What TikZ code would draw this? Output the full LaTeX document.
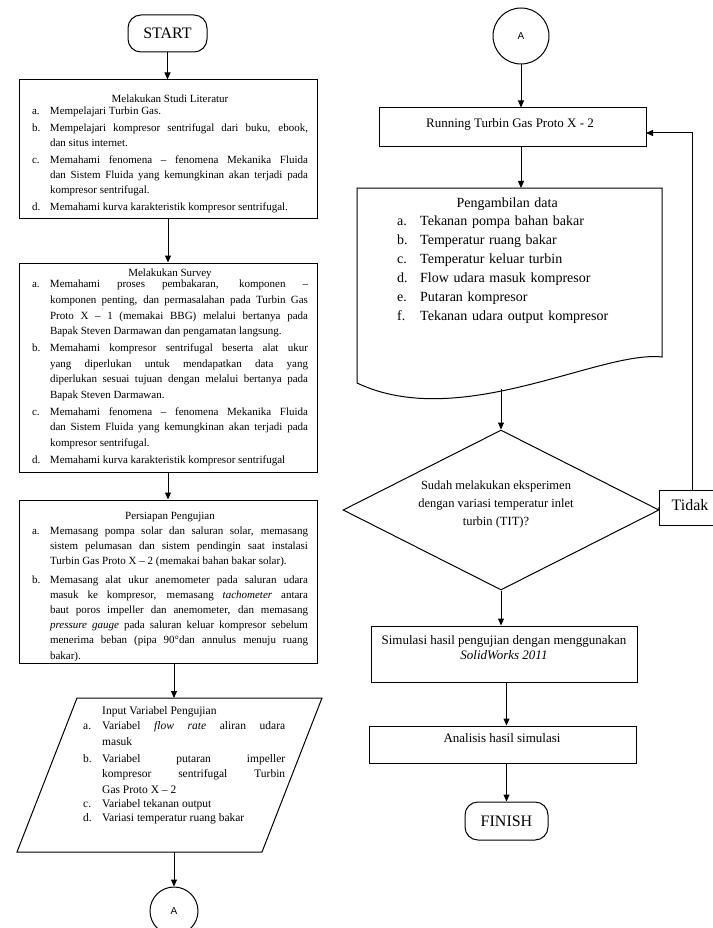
\documentclass[tikz,border=0pt]{standalone}
\usepackage{fontspec}
\setmainfont{Liberation Serif}
\newfontfamily\sansA{Liberation Sans}
\usetikzlibrary{arrows.meta,shapes.geometric}
\tolerance=10000
\hbadness=10000
\newcommand{\itm}[3]{\par\hangindent=#1\hangafter=1\noindent\makebox[#1][l]{#2}#3\par}
\begin{document}
\begin{tikzpicture}[x=1pt,y=-1pt,
  every node/.style={inner sep=0pt},
  ln/.style={line width=1pt},
  arr/.style={ln,-{Triangle[length=7pt,width=6pt]}},
  ltext/.style={text width=276pt,align=justify},
  rbox/.style={draw,ln,rectangle},
  term/.style={draw,ln,rectangle,rounded corners=13pt},
  conn/.style={draw,ln,circle,font=\sansA\fontsize{10}{12}\selectfont},
]
\fill[white] (0,0) rectangle (712,928);
\useasboundingbox (0,0) rectangle (712,928);

% ---------------- left column ----------------
\node[term, minimum width=79pt, minimum height=37pt, font=\fontsize{16}{18}\selectfont] (start) at (167.5,33.5) {START};

\node[rbox, minimum width=298pt, minimum height=138pt] (b1) at (168,149) {};
\node[ltext, font=\fontsize{11}{15}\selectfont] (b1t) at (170,154) {\setlength{\parskip}{2pt}%
{\centering Melakukan Studi Literatur\par}\vspace{-5pt}%
\itm{18pt}{a.}{Mempelajari Turbin Gas.}%
\itm{18pt}{b.}{Mempelajari kompresor sentrifugal dari buku, ebook,\linebreak dan situs internet.}%
\itm{18pt}{c.}{Memahami fenomena – fenomena Mekanika Fluida\linebreak dan Sistem Fluida yang kemungkinan akan terjadi pada\linebreak kompresor sentrifugal.}%
\itm{18pt}{d.}{Memahami kurva karakteristik kompresor sentrifugal.}};

\node[rbox, minimum width=298pt, minimum height=209pt] (b2) at (168,367.5) {};
\node[ltext, font=\fontsize{11}{15.7}\selectfont] (b2t) at (170,367.5) {\setlength{\parskip}{1pt}%
{\centering Melakukan Survey\par}\vspace{-6pt}%
\itm{18pt}{a.}{Memahami proses pembakaran, komponen –\linebreak komponen penting, dan permasalahan pada Turbin Gas\linebreak Proto X – 1 (memakai BBG) melalui bertanya pada\linebreak Bapak Steven Darmawan dan pengamatan langsung.}%
\itm{18pt}{b.}{Memahami kompresor sentrifugal beserta alat ukur\linebreak yang diperlukan untuk mendapatkan data yang\linebreak diperlukan sesuai tujuan dengan melalui bertanya pada\linebreak Bapak Steven Darmawan.}%
\itm{18pt}{c.}{Memahami fenomena – fenomena Mekanika Fluida\linebreak dan Sistem Fluida yang kemungkinan akan terjadi pada\linebreak kompresor sentrifugal.}%
\itm{18pt}{d.}{Memahami kurva karakteristik kompresor sentrifugal}};

\node[rbox, minimum width=298pt, minimum height=163pt] (b3) at (168,581.5) {};
\node[ltext, font=\fontsize{11}{15.2}\selectfont] (b3t) at (170,587) {\setlength{\parskip}{3pt}%
{\centering Persiapan Pengujian\par}\vspace{-3.5pt}%
\itm{18pt}{a.}{Memasang pompa solar dan saluran solar, memasang\linebreak sistem pelumasan dan sistem pendingin saat instalasi\linebreak Turbin Gas Proto X – 2 (memakai bahan bakar solar).}%
\itm{18pt}{b.}{Memasang alat ukur anemometer pada saluran udara\linebreak masuk ke kompresor, memasang \textit{tachometer} antara\linebreak baut poros impeller dan anemometer, dan memasang\linebreak \textit{pressure gauge} pada saluran keluar kompresor sebelum\linebreak menerima beban (pipa 90°dan annulus menuju ruang\linebreak bakar).}};

% input parallelogram
\coordinate (pTL) at (77,698);
\coordinate (pTR) at (322,698);
\coordinate (pBR) at (262,852);
\coordinate (pBL) at (17,852);
\coordinate (ptop) at (174,698);
\coordinate (pbot) at (174,852);
\draw[ln] (pTL) -- (pTR) -- (pBR) -- (pBL) -- cycle;
\node[anchor=north west, text width=202pt, align=justify, font=\fontsize{11.5}{15.5}\selectfont] (ptext) at (83,706) {\setlength{\parskip}{1.5pt}%
\hspace*{19pt}Input Variabel Pengujian\par\vspace{-1.5pt}%
\itm{19pt}{a.}{Variabel \textit{flow rate} aliran udara\linebreak masuk}%
\itm{19pt}{b.}{Variabel putaran impeller\linebreak kompresor sentrifugal Turbin\linebreak Gas Proto X – 2}%
\vspace{-3pt}\itm{19pt}{c.}{Variabel tekanan output}%
\vspace{-3pt}\itm{19pt}{d.}{Variasi temperatur ruang bakar}};

\node[conn, minimum size=48pt] (a2) at (174,911) {A};

% ---------------- right column ----------------
\node[conn, minimum size=56pt] (a1) at (521,36) {A};

\node[rbox, minimum width=267pt, minimum height=39pt] (run) at (512.5,127.5) {};
\node[font=\fontsize{13}{15}\selectfont] (runt) at (510,124) {Running Turbin Gas Proto X - 2};

% document shape
\coordinate (doctop) at (521,188);
\coordinate (docb) at (501,389);
\draw[ln] (357,188) -- (662,188) -- (662,357) .. controls (600,350) and (460,432) .. (357,383) -- cycle;
\node[anchor=north west, text width=220pt, align=left, font=\fontsize{14}{19}\selectfont] (doct) at (397,198) {%
{\centering Pengambilan data\par}\vspace{-1pt}%
\itm{23pt}{a.}{Tekanan pompa bahan bakar}%
\itm{23pt}{b.}{Temperatur ruang bakar}%
\itm{23pt}{c.}{Temperatur keluar turbin}%
\itm{23pt}{d.}{Flow udara masuk kompresor}%
\itm{23pt}{e.}{Putaran kompresor}%
\itm{23pt}{f.}{Tekanan udara output kompresor}};

% decision
\node[draw, ln, diamond, aspect=2, minimum width=316pt, minimum height=160pt] (dia) at (501,510) {};
\node[align=center, font=\fontsize{12.5}{18}\selectfont] (diat) at (496,504) {Sudah melakukan eksperimen\\dengan variasi temperatur inlet\\turbin (TIT)?};

\node[rbox, minimum width=66pt, minimum height=35pt] (tid) at (692,507.5) {};
\node[font=\fontsize{16}{18}\selectfont] (tidt) at (690,505) {Tidak};
\coordinate (fb) at (646,133);

\node[rbox, minimum width=266pt, minimum height=56pt] (sim) at (504,654) {};
\node[align=center, font=\fontsize{13}{15}\selectfont] (simt) at (504,647.5) {Simulasi hasil pengujian dengan menggunakan\\\textit{SolidWorks 2011}};

\node[rbox, minimum width=267pt, minimum height=37pt] (ana) at (502.5,744.5) {};
\node[font=\fontsize{13}{15}\selectfont] (anat) at (502,738) {Analisis hasil simulasi};

\node[term, minimum width=83pt, minimum height=38pt, font=\fontsize{16}{18}\selectfont] (fin) at (506.5,821) {FINISH};

% ---------------- connectors ----------------
\draw[arr] (start.south) -- (start.south |- b1.north);
\draw[arr] (b1.south) -- (b2.north);
\draw[arr] (b2.south) -- (b3.north);
\draw[arr] (b3.south -| ptop) -- (ptop);
\draw[arr] (pbot) -- (a2.north);

\draw[arr] (a1.south) -- (a1.south |- run.north);
\draw[arr] (a1.south |- run.south) -- (doctop);
\draw[arr] (docb) -- (dia.north);
\draw[ln] (dia.east) -- (tid.west);
\draw[arr] (tid.north) |- (fb);
\draw[arr] (dia.south) -- (dia.south |- sim.north);
\draw[arr] (sim.south -| fin.north) -- (ana.north -| fin.north);
\draw[arr] (ana.south -| fin.north) -- (fin.north);
\end{tikzpicture}
\end{document}
